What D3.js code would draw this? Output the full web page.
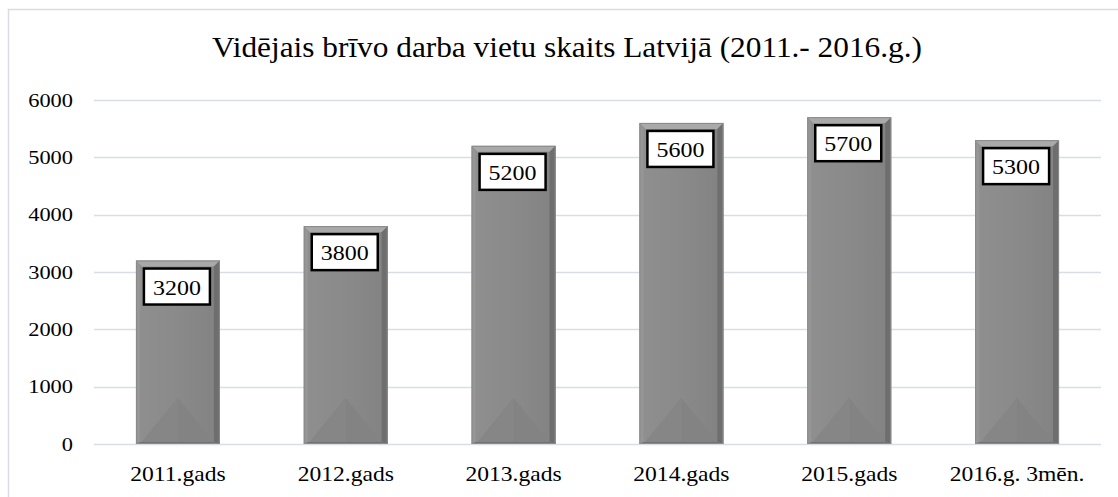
<!DOCTYPE html>
<html>
<head>
<meta charset="utf-8">
<script src="https://cdn.jsdelivr.net/npm/d3@7"></script>
<style>
  body { margin: 0; background: #fff; }
</style>
</head>
<body>
<svg width="1118" height="497"></svg>
<script>
var categories = ["2011.gads", "2012.gads", "2013.gads", "2014.gads", "2015.gads", "2016.g. 3mēn."];
var values = [3200, 3800, 5200, 5600, 5700, 5300];
var yTicks = [0, 1000, 2000, 3000, 4000, 5000, 6000];
var title = "Vidējais brīvo darba vietu skaits Latvijā (2011.- 2016.g.)";

var serif = "'Liberation Serif', 'Times New Roman', Tinos, 'DejaVu Serif', serif";

var svg = d3.select("svg"),
    margin = {top: 100, right: 17, bottom: 53, left: 94},
    width = 1118 - margin.left - margin.right,
    height = 497 - margin.top - margin.bottom;

// outer frame (runs off the right / bottom edge)
svg.append("rect")
    .attr("x", 8.5).attr("y", 9.5)
    .attr("width", 1120).attr("height", 500)
    .attr("fill", "none")
    .attr("stroke", "#d9dde3")
    .attr("stroke-width", 1.5);

// stretched text helper
function stext(sel, x, y, str, size, sx, anchor) {
  return sel.append("text")
      .attr("transform", "translate(" + x + "," + y + ") scale(" + sx + ",1)")
      .attr("text-anchor", anchor || "middle")
      .attr("font-family", serif)
      .attr("font-size", size)
      .attr("fill", "#000")
      .text(str);
}

stext(svg, 567, 57, title, 29, 1.08);

var x = d3.scaleBand().domain(categories).range([0, width]).paddingInner(0.5).paddingOuter(0.25),
    y = d3.scaleLinear().domain([0, 6000]).range([height, 0]);

var g = svg.append("g")
    .attr("transform", "translate(" + margin.left + "," + margin.top + ")");

// gridlines
g.selectAll(".grid")
  .data(yTicks)
  .enter().append("line")
    .attr("class", "grid")
    .attr("x1", 0).attr("x2", width)
    .attr("y1", function(d) { return Math.round(y(d)) + 0.5; })
    .attr("y2", function(d) { return Math.round(y(d)) + 0.5; })
    .attr("stroke", "#d9dde6")
    .attr("stroke-width", 1.5);

// y tick labels
yTicks.forEach(function(t) {
  stext(g, 73 - margin.left, y(t) + 6.5, t, 19, 1.18, "end");
});

// x labels
categories.forEach(function(c) {
  stext(g, x(c) + x.bandwidth() / 2, height + 37, c, 20.5, 1.15);
});

// bevel gradient for main face
var defs = svg.append("defs");
var grad = defs.append("linearGradient").attr("id", "face")
    .attr("x1", "0").attr("x2", "1").attr("y1", "0").attr("y2", "0");
grad.append("stop").attr("offset", "0").attr("stop-color", "#8f8f8f");
grad.append("stop").attr("offset", "0.5").attr("stop-color", "#8a8a8a");
grad.append("stop").attr("offset", "1").attr("stop-color", "#828282");

var bev = 6;
var bars = g.selectAll(".bar")
  .data(values)
  .enter().append("g")
    .attr("class", "bar");

bars.each(function(v, i) {
  var b = d3.select(this);
  var x0 = x(categories[i]), x1 = x0 + x.bandwidth();
  var y0 = y(v), y1 = y(0);
  var cx = (x0 + x1) / 2;
  function poly(pts, fill) {
    b.append("polygon")
      .attr("points", pts.map(function(p) { return p.join(","); }).join(" "))
      .attr("fill", fill);
  }
  // main face
  b.append("rect")
    .attr("x", x0).attr("y", y0)
    .attr("width", x1 - x0).attr("height", y1 - y0)
    .attr("fill", "url(#face)");
  // bottom tent (subtle)
  poly([[x0 + bev, y1 - 2], [cx, y1 - 46], [x1 - bev, y1 - 2]], "#838383");
  poly([[x0 + bev, y1 - 2], [cx, y1 - 46], [cx, y1 - 2]], "#868686");
  // bevels
  poly([[x0, y0], [x1, y0], [x1 - bev, y0 + bev], [x0 + bev, y0 + bev]], "#a9a9a9");
  poly([[x0, y0], [x0 + 4, y0 + bev], [x0 + 4, y1 - 2], [x0, y1]], "#969696");
  poly([[x1, y0], [x1 - bev, y0 + bev], [x1 - bev, y1 - 2], [x1, y1]], "#6e6e6e");
  poly([[x0, y1], [x0 + 4, y1 - 2], [x1 - bev, y1 - 2], [x1, y1]], "#727272");
  b.append("rect")
    .attr("x", x0 + 0.5).attr("y", y0 + 0.5)
    .attr("width", x1 - x0 - 1).attr("height", y1 - y0 - 1)
    .attr("fill", "none")
    .attr("stroke", "#8a8a8a")
    .attr("stroke-width", 1);

  // value label box
  var bw = 66, bh = 36;
  b.append("rect")
    .attr("x", cx - 1 - bw / 2).attr("y", y0 + 8)
    .attr("width", bw).attr("height", bh)
    .attr("fill", "#fff")
    .attr("stroke", "#000")
    .attr("stroke-width", 2.5);
  stext(b, cx - 1, y0 + 34, v, 22, 1.09);
});
</script>
</body>
</html>
